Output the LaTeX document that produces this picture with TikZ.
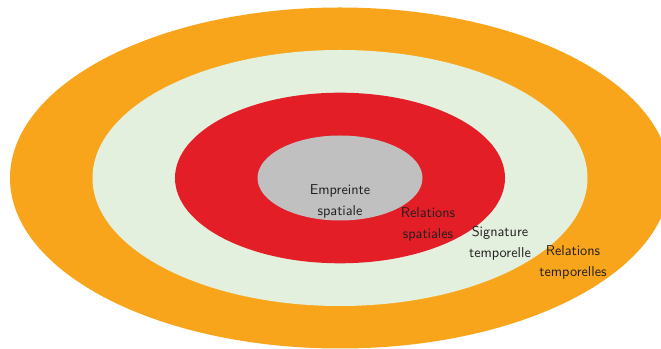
\documentclass[tikz,border=0pt]{standalone}
\usetikzlibrary{positioning}
\definecolor{orangeband}{RGB}{249,165,28}
\definecolor{greenband}{RGB}{227,240,222}
\definecolor{redband}{RGB}{227,30,38}
\definecolor{greyband}{RGB}{192,192,192}
\definecolor{labeltext}{RGB}{35,31,32}
\tikzset{
    layerlabel/.style={align=center, text=labeltext, inner sep=0pt,
        font=\fontsize{10.7}{15.75}\selectfont\sffamily}
}

\begin{document}
\begin{tikzpicture}[x=0.75pt,y=0.75pt]
            \useasboundingbox (0,0) rectangle (661,349);
            \clip (0,0) rectangle (661,349);
            \fill [orangeband] (340,171) ellipse (330 and 170.5);
            \fill [greenband] (340,171) ellipse (247.5 and 128);
            \fill [redband] (340,171) ellipse (165 and 85.3);
            \fill [greyband] (340,171) ellipse (82.5 and 42.5);
            \node [layerlabel] (empreinte) at (340,148) {Empreinte\\spatiale};
            \node [layerlabel] (relspat) at (428,125) {Relations\\spatiales};
            \node [layerlabel] (signature) at (500,105.5) {Signature\\temporelle};
            \node [layerlabel] (reltemp) at (573,87) {Relations\\temporelles};
        \end{tikzpicture}
\end{document}
